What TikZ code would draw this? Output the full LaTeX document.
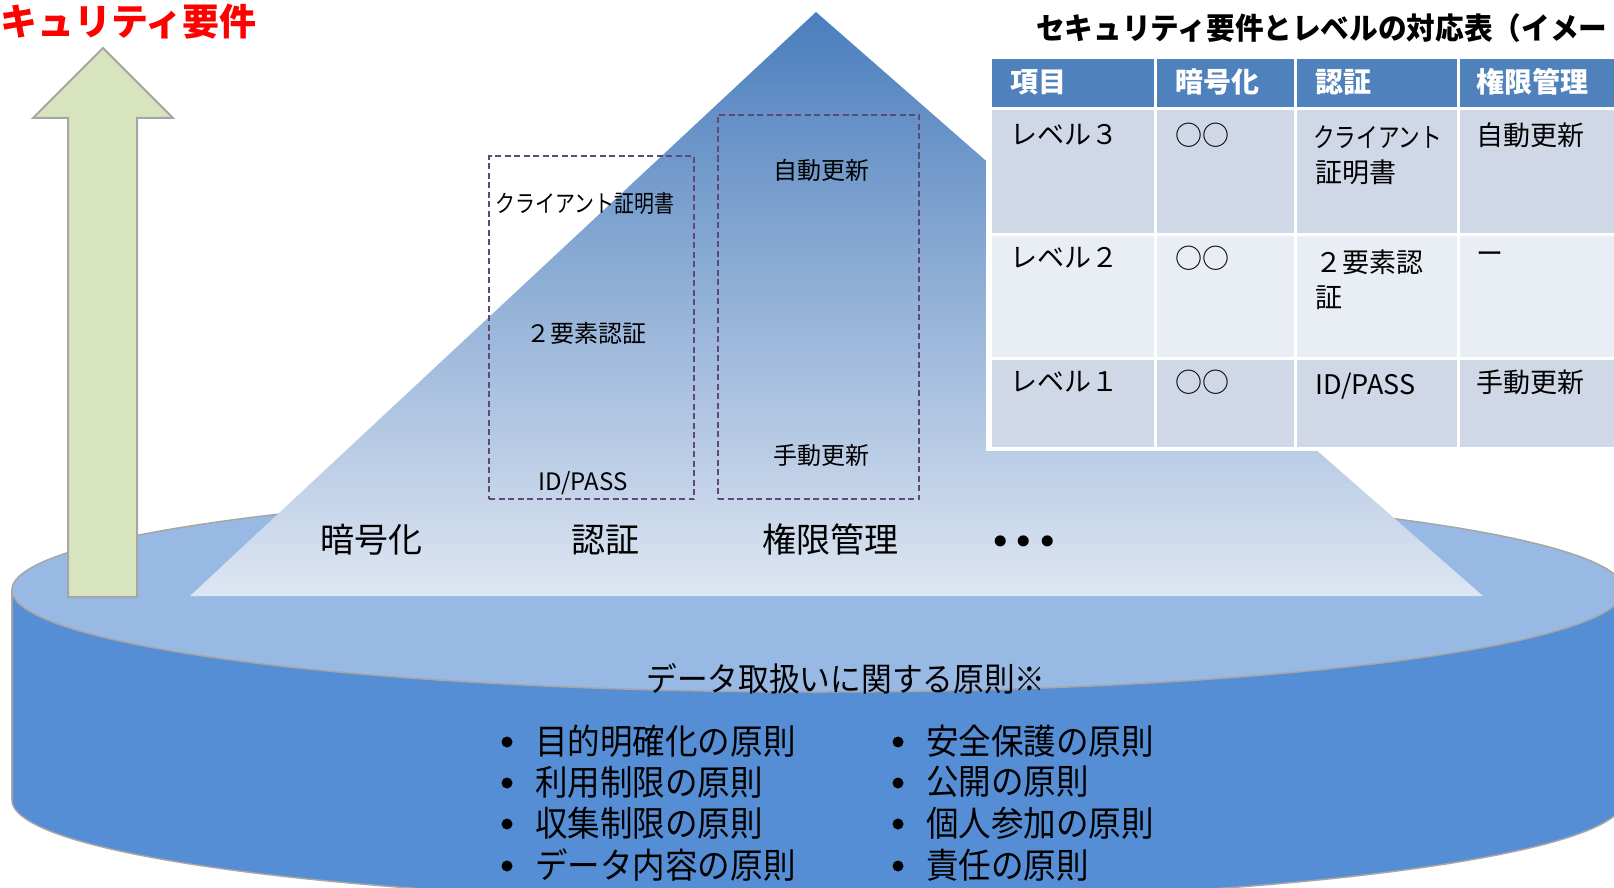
\documentclass[tikz,border=0pt]{standalone}
\usepackage{fontspec}
\setmainfont{Noto Sans CJK JP}
\newfontfamily\jpc{Noto Sans CJK JP}[FakeStretch=0.93]
\newfontfamily\jpk{Noto Sans CJK JP}[FakeStretch=0.83]
\newfontfamily\jpkk{Noto Sans CJK JP}[FakeStretch=0.8]
\newfontfamily\jpt{Noto Sans CJK JP}[FakeStretch=0.955]
\newfontfamily\dejavu{DejaVu Sans}
\definecolor{cylside}{RGB}{85,142,213}
\definecolor{cyltop}{RGB}{152,185,227}
\definecolor{edgegray}{RGB}{166,166,166}
\definecolor{arrowfill}{RGB}{215,228,189}
\definecolor{pyrtop}{RGB}{74,126,189}
\definecolor{pyrbot}{RGB}{222,230,242}
\definecolor{dashcol}{RGB}{96,73,122}
\definecolor{hdr}{RGB}{79,129,189}
\definecolor{rowa}{RGB}{208,216,232}
\definecolor{rowb}{RGB}{233,237,244}
\newcommand{\fsz}[1]{\fontsize{#1}{#1}\selectfont}
\begin{document}
\begin{tikzpicture}[x=1pt,y=-1pt,
  lbl/.style={inner sep=0pt, anchor=center},
  celltxt/.style={inner sep=0pt, anchor=west, font=\fsz{27}},
  hdrtxt/.style={inner sep=0pt, anchor=west, font=\fsz{28}\bfseries, text=white},
  boxtxt/.style={inner sep=0pt, anchor=center, font=\fsz{24}},
  pyrlbl/.style={inner sep=0pt, anchor=center, font=\fsz{34}},
  bul/.style={circle, fill=black, inner sep=0pt, minimum size=11pt},
  item/.style={inner sep=0pt, anchor=west, font=\jpc\fsz{35}},
  dbox/.style={draw=dashcol, line width=2pt, dash pattern=on 6pt off 3.5pt, inner sep=0pt},
  tcell/.style={draw=white, line width=3pt},
  edge/.style={draw=edgegray, line width=1.5pt}]
\useasboundingbox (0,0) rectangle (1614,888);
\clip (0,0) rectangle (1614,888);
\fill[white] (0,0) rectangle (1614,888);
% cylinder
\filldraw[fill=cylside, edge] (818,800) ellipse [x radius=806pt, y radius=102pt];
\fill[cylside] (12,590) rectangle (1630,800);
\draw[edge] (12,590) -- (12,800);
\filldraw[fill=cyltop, edge] (818,590) ellipse [x radius=806pt, y radius=102pt];
% arrow
\filldraw[fill=arrowfill, draw=edgegray, line width=2pt]
  (103,48) -- (173,118) -- (137,118) -- (137,597) -- (68,597) -- (68,118) -- (33,118) -- cycle;
% pyramid
\shade[top color=pyrtop, bottom color=pyrbot] (816,12) -- (1483,596) -- (190,596) -- cycle;
% dashed boxes
\node[dbox, minimum width=205pt, minimum height=343pt] (authbox) at (591.5,327.5) {};
\node[dbox, minimum width=201pt, minimum height=384pt] (permbox) at (818.5,307) {};
\node[boxtxt, font=\jpk\fsz{24}] (cert) at (585,203) {クライアント証明書};
\node[boxtxt] (twofa) at (586,333) {２要素認証};
\node[boxtxt] (idpass) at (583,483) {ID/PASS};
\node[boxtxt] (auto) at (821,170) {自動更新};
\node[boxtxt] (manual) at (821,455) {手動更新};
% pyramid labels
\node[pyrlbl] (enc) at (371,540) {暗号化};
\node[pyrlbl] (authl) at (605,540) {認証};
\node[pyrlbl] (perm) at (830,540) {権限管理};
\node[inner sep=0pt, font=\dejavu\fsz{38}] (dots) at (1024,546) {•\kern1pt•\kern1pt•};
% table
\fill[white] (986,55) rectangle (1630,451);
\foreach \a/\b in {990/1155,1155/1295,1295/1458,1458/1625} {
  \path[tcell, fill=hdr] (\a,58) rectangle (\b,109);
  \path[tcell, fill=rowa] (\a,109) rectangle (\b,234);
  \path[tcell, fill=rowb] (\a,234) rectangle (\b,358);
  \path[tcell, fill=rowa] (\a,358) rectangle (\b,448);
}
\node[hdrtxt] (h1) at (1010,82) {項目};
\node[hdrtxt] (h2) at (1175,82) {暗号化};
\node[hdrtxt] (h3) at (1315,82) {認証};
\node[hdrtxt] (h4) at (1476,82) {権限管理};
\node[celltxt] (l3) at (1010,135) {レベル３};
\node[celltxt] (e3) at (1175,135) {○○};
\node[celltxt, font=\jpkk\fsz{27}] (a3a) at (1313,137) {クライアント};
\node[celltxt] (a3b) at (1315,172) {証明書};
\node[celltxt] (p3) at (1476,135) {自動更新};
\node[celltxt] (l2) at (1010,258) {レベル２};
\node[celltxt] (e2) at (1175,258) {○○};
\node[celltxt] (a2a) at (1315,262) {２要素認};
\node[celltxt] (a2b) at (1315,298) {証};
\node[celltxt] (p2) at (1476,258) {ー};
\node[celltxt] (l1) at (1010,382) {レベル１};
\node[celltxt] (e1) at (1175,382) {○○};
\node[celltxt] (a1) at (1315,386) {ID/PASS};
\node[celltxt] (p1) at (1476,382) {手動更新};
% titles
\node[inner sep=0pt, anchor=west, font=\fsz{37}\bfseries, text=red] (req) at (0,22) {キュリティ要件};
\node[inner sep=0pt, anchor=west, font=\jpt\fsz{30}\bfseries] (ttl) at (1036,28) {セキュリティ要件とレベルの対応表（イメー};
% principles
\node[inner sep=0pt, font=\jpc\fsz{33}] (prin) at (846,679) {データ取扱いに関する原則※};
\node[bul] (bl1) at (507,742) {};
\node[bul] (bl2) at (507,783) {};
\node[bul] (bl3) at (507,824) {};
\node[bul] (bl4) at (507,866) {};
\node[item] (il1) at (535,741) {目的明確化の原則};
\node[item] (il2) at (535,782) {利用制限の原則};
\node[item] (il3) at (535,823) {収集制限の原則};
\node[item] (il4) at (535,865) {データ内容の原則};
\node[bul] (br1) at (898,742) {};
\node[bul] (br2) at (898,783) {};
\node[bul] (br3) at (898,824) {};
\node[bul] (br4) at (898,866) {};
\node[item] (ir1) at (926,741) {安全保護の原則};
\node[item] (ir2) at (926,782) {公開の原則};
\node[item] (ir3) at (926,823) {個人参加の原則};
\node[item] (ir4) at (926,865) {責任の原則};
\end{tikzpicture}
\end{document}
